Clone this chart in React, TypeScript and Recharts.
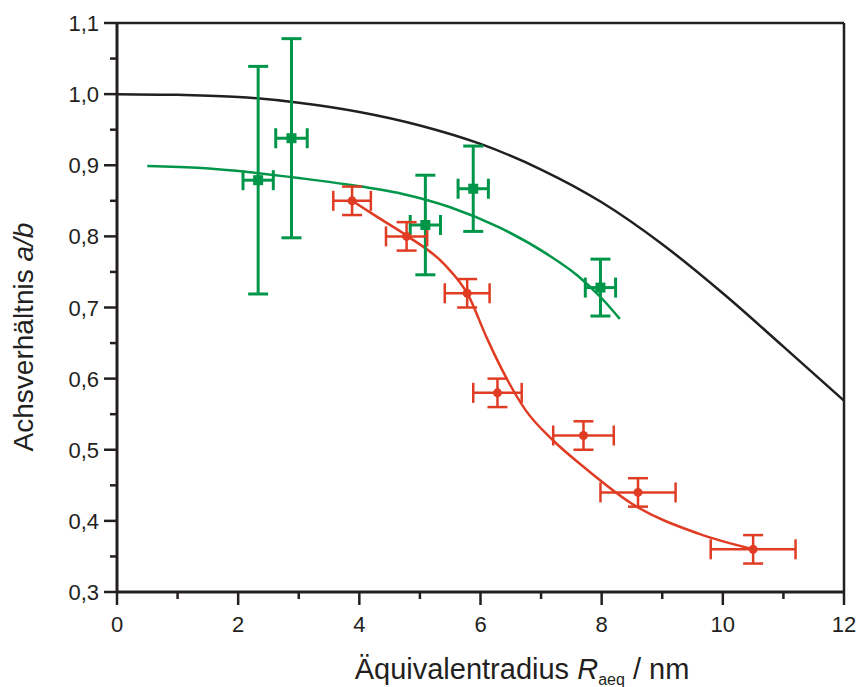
import React from "react";
import {
  ComposedChart,
  Line,
  Scatter,
  ErrorBar,
  XAxis,
  YAxis,
  ReferenceLine,
} from "recharts";

// measured points (x, y, x error, y error)
const greenPoints = [
  { x: 2.33, y: 0.879, ex: 0.25, ey: 0.16 },
  { x: 2.88, y: 0.938, ex: 0.26, ey: 0.14 },
  { x: 5.09, y: 0.816, ex: 0.25, ey: 0.07 },
  { x: 5.88, y: 0.867, ex: 0.25, ey: 0.06 },
  { x: 7.98, y: 0.728, ex: 0.25, ey: 0.04 },
];

const redPoints = [
  { x: 3.88, y: 0.85, ex: 0.31, ey: 0.02 },
  { x: 4.78, y: 0.8, ex: 0.34, ey: 0.02 },
  { x: 5.78, y: 0.72, ex: 0.37, ey: 0.02 },
  { x: 6.28, y: 0.58, ex: 0.4, ey: 0.02 },
  { x: 7.7, y: 0.52, ex: 0.5, ey: 0.02 },
  { x: 8.6, y: 0.44, ex: 0.62, ey: 0.02 },
  { x: 10.5, y: 0.36, ex: 0.7, ey: 0.02 },
];

// fitted curves
const blackCurve = [
  { x: 0, y: 1.0 },
  { x: 1, y: 0.999 },
  { x: 2, y: 0.996 },
  { x: 3, y: 0.988 },
  { x: 4, y: 0.975 },
  { x: 5, y: 0.956 },
  { x: 6, y: 0.93 },
  { x: 7, y: 0.894 },
  { x: 8, y: 0.848 },
  { x: 9, y: 0.789 },
  { x: 10, y: 0.72 },
  { x: 11, y: 0.645 },
  { x: 12, y: 0.569 },
];

const greenCurve = [
  { x: 0.5, y: 0.899 },
  { x: 1.4, y: 0.896 },
  { x: 2.2, y: 0.89 },
  { x: 3.0, y: 0.882 },
  { x: 3.8, y: 0.873 },
  { x: 4.7, y: 0.86 },
  { x: 5.5, y: 0.841 },
  { x: 6.3, y: 0.813 },
  { x: 7.1, y: 0.775 },
  { x: 7.6, y: 0.745 },
  { x: 8.0, y: 0.713 },
  { x: 8.3, y: 0.684 },
];

const redCurve = [
  { x: 3.88, y: 0.85 },
  { x: 4.3, y: 0.827 },
  { x: 4.8, y: 0.8 },
  { x: 5.4, y: 0.761 },
  { x: 5.8, y: 0.717 },
  { x: 6.1, y: 0.658 },
  { x: 6.42, y: 0.602 },
  { x: 6.75, y: 0.555 },
  { x: 7.2, y: 0.513 },
  { x: 7.7, y: 0.476 },
  { x: 8.5, y: 0.424 },
  { x: 9.6, y: 0.382 },
  { x: 10.5, y: 0.36 },
];

const xTicks = [0, 1, 2, 3, 4, 5, 6, 7, 8, 9, 10, 11, 12];
const yTicks = [0.3, 0.35, 0.4, 0.45, 0.5, 0.55, 0.6, 0.65, 0.7, 0.75, 0.8, 0.85, 0.9, 0.95, 1.0, 1.05, 1.1];

const INK = "#231f20";
const GREEN = "#00964a";
const RED = "#e03c23";
const FONT = "'Liberation Sans', Arial, Helvetica, sans-serif";

const XTick = (props: any) => {
  const { x, y, payload } = props;
  const v = payload.value;
  const major = v % 2 === 0;
  return (
    <g>
      <line x1={x} y1={y} x2={x} y2={y + (major ? 13 : 7)} stroke={INK} strokeWidth={2.5} />
      {major && (
        <text x={x} y={y + 40} textAnchor="middle" fontSize={22} fill={INK} fontFamily={FONT}>
          {v}
        </text>
      )}
    </g>
  );
};

const YTick = (props: any) => {
  const { x, y, payload } = props;
  const v = payload.value;
  const major = Math.round(v * 100) % 10 === 0;
  return (
    <g>
      <line x1={x} y1={y} x2={x - (major ? 13 : 7)} y2={y} stroke={INK} strokeWidth={2.5} />
      {major && (
        <text x={x - 18} y={y + 8} textAnchor="end" fontSize={22} fill={INK} fontFamily={FONT}>
          {v.toFixed(1).replace(".", ",")}
        </text>
      )}
    </g>
  );
};

const XTitle = (props: any) => {
  const { viewBox } = props;
  return (
    <text x={522} y={viewBox.y + 87} textAnchor="middle" fontSize={29} fill={INK} fontFamily={FONT}>
      Äquivalentradius <tspan fontStyle="italic">R</tspan>
      <tspan fontSize={16} dy={6}>aeq</tspan>
      <tspan dy={-6}> / nm</tspan>
    </text>
  );
};

const YTitle = () => (
  <text
    x={33}
    y={337}
    transform="rotate(-90 33 337)"
    textAnchor="middle"
    fontSize={28}
    fill={INK}
    fontFamily={FONT}
  >
    Achsverhältnis <tspan fontStyle="italic">a/b</tspan>
  </text>
);

const GreenSquare = (p: any) => <rect x={p.cx - 5} y={p.cy - 5} width={10} height={10} fill={GREEN} />;
const RedDot = (p: any) => <circle cx={p.cx} cy={p.cy} r={4.5} fill={RED} />;

export default function App() {
  return (
    <div style={{ position: "absolute", left: 0, top: 0, background: "#fff" }}>
      <ComposedChart width={859} height={687} margin={{ top: 23, right: 15, left: 0, bottom: 0 }}>
        <XAxis
          dataKey="x"
          type="number"
          domain={[0, 12]}
          ticks={xTicks}
          interval={0}
          height={95}
          tickLine={false}
          tickSize={0}
          tickMargin={0}
          tick={<XTick />}
          axisLine={{ stroke: INK, strokeWidth: 3 }}
          label={<XTitle />}
        />
        <YAxis
          dataKey="y"
          type="number"
          domain={[0.3, 1.1]}
          ticks={yTicks}
          interval={0}
          width={117}
          tickLine={false}
          tickSize={0}
          tickMargin={0}
          tick={<YTick />}
          axisLine={{ stroke: INK, strokeWidth: 3 }}
          label={<YTitle />}
        />
        <ReferenceLine y={1.1} stroke={INK} strokeWidth={2.5} />
        <ReferenceLine x={12} stroke={INK} strokeWidth={2.5} />
        <Line data={blackCurve} dataKey="y" type="monotone" stroke={INK} strokeWidth={2.5} dot={false} isAnimationActive={false} />
        <Line data={greenCurve} dataKey="y" type="monotone" stroke={GREEN} strokeWidth={2.5} dot={false} isAnimationActive={false} />
        <Line data={redCurve} dataKey="y" type="monotone" stroke={RED} strokeWidth={2.5} dot={false} isAnimationActive={false} />
        <Scatter data={greenPoints} shape={<GreenSquare />} isAnimationActive={false}>
          <ErrorBar dataKey="ey" direction="y" width={10} stroke={GREEN} strokeWidth={3} />
          <ErrorBar dataKey="ex" direction="x" width={10} stroke={GREEN} strokeWidth={3} />
        </Scatter>
        <Scatter data={redPoints} shape={<RedDot />} isAnimationActive={false}>
          <ErrorBar dataKey="ey" direction="y" width={10} stroke={RED} strokeWidth={2.5} />
          <ErrorBar dataKey="ex" direction="x" width={10} stroke={RED} strokeWidth={2.5} />
        </Scatter>
      </ComposedChart>
    </div>
  );
}
